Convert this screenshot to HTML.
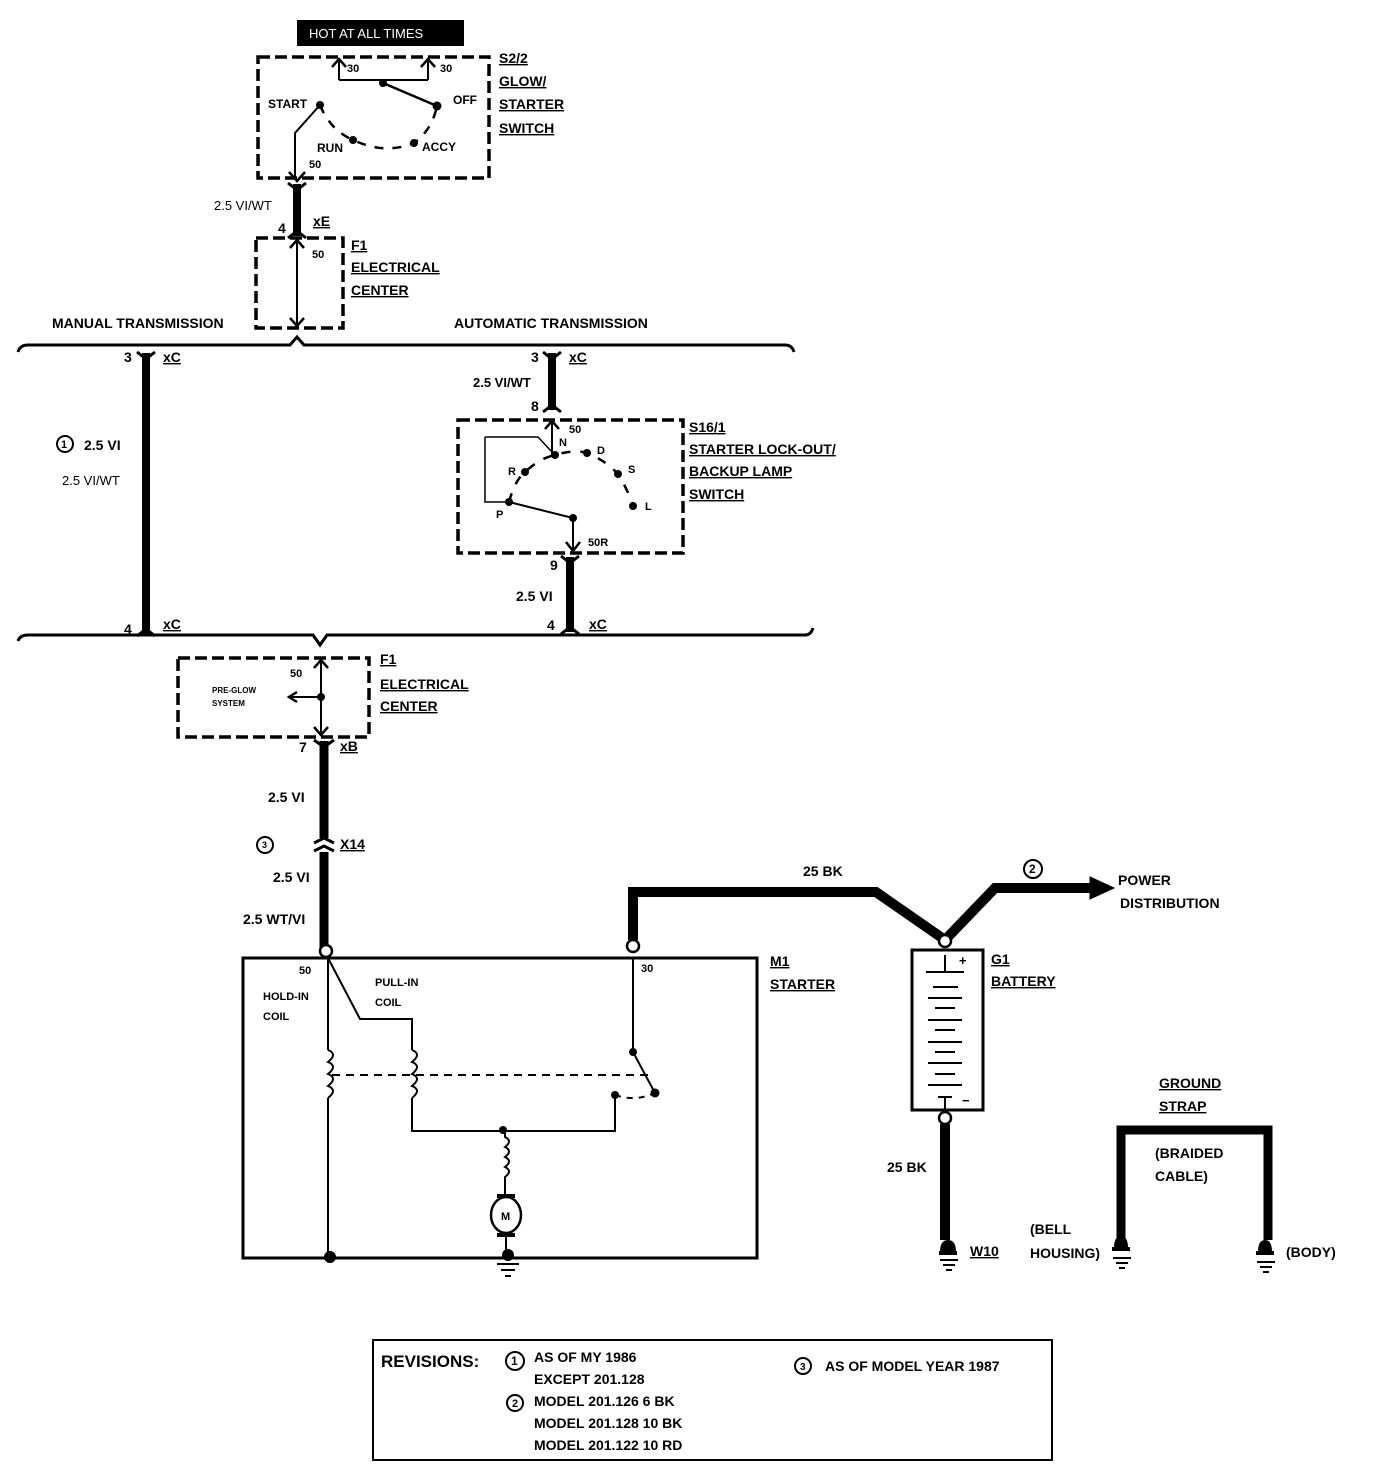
<!DOCTYPE html>
<html><head><meta charset="utf-8"><style>
html,body{margin:0;padding:0;background:#fff}
svg{display:block;font-size:14px}
text{font-family:"Liberation Sans Narrow","Liberation Sans",sans-serif;font-weight:bold;fill:#000}
.u{text-decoration:underline}
</style></head><body>
<svg width="1374" height="1472" viewBox="0 0 1374 1472" xmlns="http://www.w3.org/2000/svg" font-size="14">
<g fill="none" stroke="#000">
<rect x="297" y="20" width="167" height="26" fill="#000" stroke="none"/>
<rect x="258" y="57" width="231" height="121" stroke-width="3.5" stroke-dasharray="12,5"/>
<path d="M339,80 V60 M428,80 V60 M339,80 H428" stroke-width="2"/>
<path d="M332,67 L339,59 L346,67 M421,67 L428,59 L435,67" stroke-width="2.5"/>
<path d="M383,83 L437,106" stroke-width="2.5"/>
<path d="M320,105 L295,133 V180" stroke-width="2"/>
<path d="M289,172 L297,181 L305,172" stroke-width="2.5"/>
<path d="M320,105 Q330,130 353,140 Q385,155 414,143 Q432,130 437,106" stroke-width="2.5" stroke-dasharray="9,9"/>
<path d="M297,184 V236" stroke-width="8"/>
<path d="M288,183 L297,190 L306,183 M288,238 L297,231 L306,238" stroke-width="3"/>
<rect x="256" y="238" width="87" height="90" stroke-width="3.5" stroke-dasharray="12,5"/>
<path d="M297,240 V326" stroke-width="2"/>
<path d="M290,248 L297,240 L304,248 M290,318 L297,326 L304,318" stroke-width="2.5"/>
<path d="M18,352 Q20,345 28,345 H290 L297,337 L304,345 H785 Q792,345 794,352" stroke-width="3"/>
<path d="M18,641 Q20,635 28,635 H313 L320,645 L327,635 H805 Q811,635 813,628" stroke-width="3"/>
<path d="M146,353 V634" stroke-width="8"/>
<path d="M137,352 L146,359 L155,352 M137,636 L146,629 L155,636" stroke-width="3"/>
<path d="M552,353 V410" stroke-width="8"/>
<path d="M543,352 L552,359 L561,352 M543,412 L552,405 L561,412" stroke-width="3"/>
<rect x="458" y="420" width="225" height="133" stroke-width="3.5" stroke-dasharray="12,5"/>
<path d="M552,421 V455" stroke-width="2"/>
<path d="M545,429 L552,421 L559,429" stroke-width="2.5"/>
<path d="M485,437 H538 L552,452 M485,437 V502 H507" stroke-width="1.5"/>
<path d="M509,502 Q515,480 525,472 Q540,458 555,455 Q575,449 587,453 Q605,460 618,474 Q628,490 633,506" stroke-width="2.5" stroke-dasharray="9,10"/>
<path d="M509,502 L573,518 V550" stroke-width="2"/>
<path d="M566,542 L573,551 L580,542" stroke-width="2.5"/>
<path d="M570,557 V632" stroke-width="8"/>
<path d="M561,556 L570,563 L579,556 M561,634 L570,627 L579,634" stroke-width="3"/>
<rect x="178" y="658" width="191" height="79" stroke-width="3.5" stroke-dasharray="12,5"/>
<path d="M321,660 V735 M321,697 H290" stroke-width="2"/>
<path d="M314,668 L321,660 L328,668 M314,727 L321,735 L328,727 M297,692 L289,697 L297,702" stroke-width="2.5"/>
<path d="M324,741 V838 M324,852 V950" stroke-width="9"/>
<path d="M314,740 L324,747 L334,740 M314,843 L324,838 L334,843 M314,851 L324,846 L334,851" stroke-width="3"/>
<rect x="243" y="958" width="514" height="300" stroke-width="3"/>
<path d="M633,940 V892 H876 L945,940 L995,888 H1092" stroke-width="10" stroke-linejoin="miter"/>
<path d="M1090,877 L1114,888 L1090,899 Z" fill="#000"/>
<path d="M328,958 V1050 M328,1098 V1258" stroke-width="2"/>
<path d="M328,1050 q10,4 0,12 q10,4 0,12 q10,4 0,12 q10,4 0,12" stroke-width="2"/>
<path d="M328,958 L360,1019 H412 V1050 M412,1098 V1131 H615 V1095" stroke-width="2"/>
<path d="M412,1050 q10,4 0,12 q10,4 0,12 q10,4 0,12 q10,4 0,12" stroke-width="2"/>
<path d="M332,1075 H650" stroke-width="2" stroke-dasharray="8,6"/>
<path d="M633,958 V1052 L655,1093" stroke-width="2"/>
<path d="M615,1095 Q635,1102 655,1093" stroke-width="2" stroke-dasharray="6,6"/>
<path d="M505,1131 V1137 q8,4 0,10 q8,4 0,10 q8,4 0,10 q8,4 0,10 V1195" stroke-width="2"/>
<ellipse cx="506" cy="1215" rx="15" ry="18" stroke-width="2.5"/>
<path d="M506,1233 V1255" stroke-width="2"/>
<path d="M497,1196 H515 M497,1235 H515" stroke-width="4"/>
<path d="M497,1264 H519 M501,1270 H515 M505,1276 H511" stroke-width="2"/>
<rect x="912" y="950" width="71" height="160" stroke-width="3"/>
<path d="M945,955 V972 M945,1097 V1112" stroke-width="2"/>
<path d="M926,972 H964 M933,987 H958 M928,998 H962 M935,1008 H955 M928,1020 H962 M935,1030 H955 M928,1042 H962 M935,1052 H955 M928,1063 H962 M935,1074 H955 M928,1085 H962 M938,1097 H952" stroke-width="2"/>
<path d="M945,1124 V1240" stroke-width="10"/>
<path d="M1121,1250 V1130 H1268 V1240" stroke-width="9"/>
<g stroke-width="2"><path d="M940,1260 H958 M943,1265 H955 M946,1270 H952"/><path d="M1113,1258 H1131 M1116,1263 H1128 M1119,1268 H1125"/><path d="M1257,1262 H1275 M1260,1267 H1272 M1263,1272 H1269"/></g>
<rect x="373" y="1340" width="679" height="120" stroke-width="2"/>
<circle cx="65" cy="444" r="8" stroke-width="2"/>
<circle cx="265" cy="845" r="8" stroke-width="2"/>
<circle cx="1033" cy="869" r="9" stroke-width="2"/>
<circle cx="515" cy="1361" r="9" stroke-width="2"/>
<circle cx="515" cy="1403" r="8" stroke-width="2"/>
<circle cx="803" cy="1366" r="8" stroke-width="2"/>
</g>
<g fill="#000">
<circle cx="383" cy="83" r="4"/><circle cx="437" cy="106" r="4.5"/><circle cx="320" cy="105" r="4"/><circle cx="353" cy="140" r="4"/><circle cx="414" cy="143" r="4"/>
<circle cx="555" cy="455" r="4"/><circle cx="525" cy="472" r="4"/><circle cx="509" cy="502" r="4"/><circle cx="587" cy="453" r="4"/><circle cx="618" cy="474" r="4"/><circle cx="633" cy="506" r="4"/><circle cx="573" cy="518" r="4"/>
<circle cx="321" cy="697" r="4"/>
<circle cx="633" cy="1052" r="4"/><circle cx="655" cy="1093" r="4.5"/><circle cx="615" cy="1095" r="4"/><circle cx="503" cy="1130" r="4"/>
<circle cx="330" cy="1257" r="6"/><circle cx="508" cy="1255" r="6"/>
<path d="M940,1252 q0,-12 8,-12 q8,0 8,12 Z"/><rect x="939" y="1251" width="18" height="4"/>
<path d="M1114,1248 q0,-12 7,-12 q7,0 7,12 Z"/><rect x="1112" y="1247" width="18" height="4"/>
<path d="M1258,1252 q0,-12 7,-12 q7,0 7,12 Z"/><rect x="1256" y="1251" width="18" height="4"/>
</g>
<g fill="#fff" stroke="#000" stroke-width="2.5">
<circle cx="326" cy="951" r="6"/><circle cx="633" cy="946" r="6"/><circle cx="945" cy="941" r="6"/><circle cx="945" cy="1118" r="6"/>
</g>
<text x="309" y="38" style="fill:#fff;font-weight:normal;font-family:'Liberation Sans',sans-serif" font-size="13">HOT AT ALL TIMES</text>
<text x="347" y="72" font-size="11">30</text><text x="440" y="72" font-size="11">30</text>
<text x="268" y="108" font-size="12">START</text><text x="453" y="104" font-size="12">OFF</text>
<text x="317" y="152" font-size="12">RUN</text><text x="422" y="151" font-size="12">ACCY</text>
<text x="309" y="168" font-size="11">50</text>
<text x="499" y="63" class="u">S2/2</text><text x="499" y="86" class="u">GLOW/</text><text x="499" y="109" class="u">STARTER</text><text x="499" y="133" class="u">SWITCH</text>
<text x="214" y="210" font-size="13" style="font-weight:normal">2.5 VI/WT</text>
<text x="278" y="233">4</text><text x="313" y="226" class="u">xE</text>
<text x="312" y="258" font-size="11">50</text>
<text x="351" y="250" class="u">F1</text><text x="351" y="272" class="u">ELECTRICAL</text><text x="351" y="295" class="u">CENTER</text>
<text x="52" y="328">MANUAL TRANSMISSION</text><text x="454" y="328">AUTOMATIC TRANSMISSION</text>
<text x="124" y="362">3</text><text x="163" y="362" class="u">xC</text>
<text x="84" y="450">2.5 VI</text><text x="61" y="448" font-size="11">1</text>
<text x="62" y="485" style="font-weight:normal" font-size="13">2.5 VI/WT</text>
<text x="124" y="634">4</text><text x="163" y="629" class="u">xC</text>
<text x="531" y="362">3</text><text x="569" y="362" class="u">xC</text>
<text x="473" y="387" font-size="13">2.5 VI/WT</text><text x="531" y="411">8</text>
<text x="569" y="433" font-size="11">50</text><text x="559" y="446" font-size="11">N</text>
<text x="508" y="475" font-size="11">R</text><text x="597" y="454" font-size="11">D</text><text x="628" y="473" font-size="11">S</text><text x="645" y="510" font-size="11">L</text><text x="496" y="518" font-size="11">P</text>
<text x="588" y="546" font-size="11">50R</text>
<text x="689" y="432" class="u">S16/1</text><text x="689" y="454" class="u">STARTER LOCK-OUT/</text><text x="689" y="476" class="u">BACKUP LAMP</text><text x="689" y="499" class="u">SWITCH</text>
<text x="550" y="570">9</text><text x="516" y="601">2.5 VI</text><text x="547" y="630">4</text><text x="589" y="629" class="u">xC</text>
<text x="290" y="677" font-size="11">50</text>
<text x="212" y="693" font-size="8">PRE-GLOW</text><text x="212" y="706" font-size="8">SYSTEM</text>
<text x="380" y="664" class="u">F1</text><text x="380" y="689" class="u">ELECTRICAL</text><text x="380" y="711" class="u">CENTER</text>
<text x="299" y="752">7</text><text x="340" y="751" class="u">xB</text>
<text x="268" y="802">2.5 VI</text><text x="262" y="848" font-size="9">3</text><text x="340" y="849" class="u">X14</text>
<text x="273" y="882">2.5 VI</text><text x="243" y="924">2.5 WT/VI</text>
<text x="299" y="974" font-size="11">50</text><text x="263" y="1000" font-size="11">HOLD-IN</text><text x="263" y="1020" font-size="11">COIL</text>
<text x="375" y="986" font-size="11">PULL-IN</text><text x="375" y="1006" font-size="11">COIL</text>
<text x="641" y="972" font-size="11">30</text><text x="501" y="1220" font-size="11">M</text>
<text x="770" y="966" class="u">M1</text><text x="770" y="989" class="u">STARTER</text>
<text x="803" y="876">25 BK</text><text x="1029" y="873" font-size="12">2</text>
<text x="1118" y="885">POWER</text><text x="1120" y="908">DISTRIBUTION</text>
<text x="959" y="965" font-size="13">+</text><text x="962" y="1105" font-size="13">−</text>
<text x="991" y="964" class="u">G1</text><text x="991" y="986" class="u">BATTERY</text>
<text x="887" y="1172">25 BK</text><text x="970" y="1256" class="u">W10</text>
<text x="1159" y="1088" class="u">GROUND</text><text x="1159" y="1111" class="u">STRAP</text>
<text x="1155" y="1158">(BRAIDED</text><text x="1155" y="1181">CABLE)</text>
<text x="1030" y="1234">(BELL</text><text x="1030" y="1258">HOUSING)</text><text x="1286" y="1257">(BODY)</text>
<text x="381" y="1367" style="font-family:'Liberation Sans',sans-serif;font-weight:bold" font-size="17">REVISIONS:</text>
<text x="511" y="1365" font-size="12">1</text><text x="534" y="1362">AS OF MY 1986</text><text x="534" y="1384">EXCEPT 201.128</text>
<text x="512" y="1407" font-size="11">2</text><text x="534" y="1406">MODEL 201.126  6 BK</text><text x="534" y="1428">MODEL 201.128  10 BK</text><text x="534" y="1450">MODEL 201.122  10 RD</text>
<text x="800" y="1370" font-size="10">3</text><text x="825" y="1371">AS OF MODEL YEAR 1987</text>
</svg>
</body></html>
